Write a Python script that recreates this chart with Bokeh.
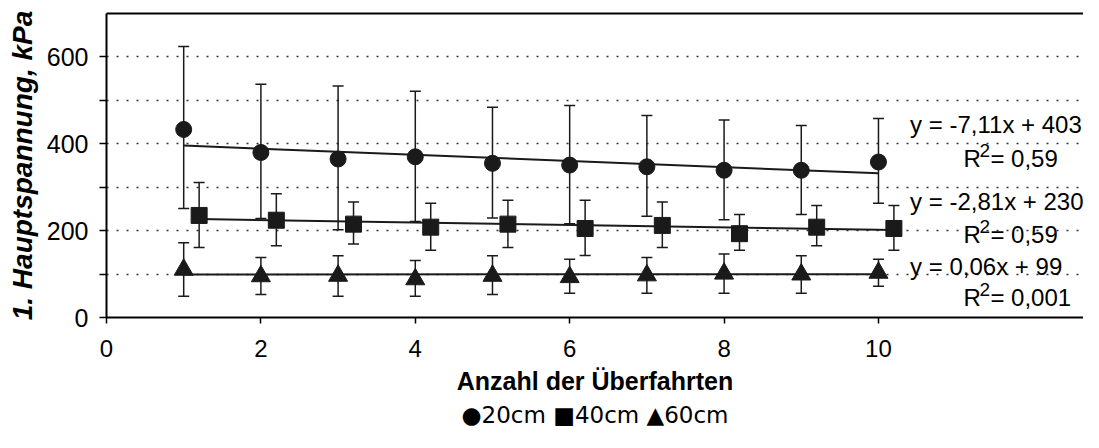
from bokeh.plotting import figure
from bokeh.models import (Range1d, FixedTicker, LinearAxis, Whisker, TeeHead,
                          ColumnDataSource, Label)
from bokeh.embed import file_html
from bokeh.resources import INLINE

# ---------------- data ----------------
passes = [1, 2, 3, 4, 5, 6, 7, 8, 9, 10]
shift_40 = 0.2  # 40cm series drawn slightly to the right

mean_20 = [433, 380, 365, 370, 355, 351, 347, 339, 339, 358]
upper_20 = [624, 537, 533, 521, 484, 488, 465, 455, 442, 458]
lower_20 = [251, 228, 202, 221, 229, 216, 233, 225, 237, 263]

mean_40 = [235, 224, 215, 208, 215, 205, 212, 193, 208, 205]
upper_40 = [311, 285, 266, 263, 270, 270, 266, 237, 258, 258]
lower_40 = [161, 165, 169, 155, 161, 143, 161, 155, 165, 155]

mean_60 = [110, 95, 96, 88, 96, 93, 97, 101, 99, 103]
upper_60 = [172, 138, 142, 131, 142, 134, 138, 146, 142, 134]
lower_60 = [49, 53, 49, 49, 53, 56, 56, 56, 56, 72]

slopes = [-7.11, -2.81, 0.06]
intercepts = [403, 230, 99]
eq_labels = ["y = -7,11x + 403", "y = -2,81x + 230", "y = 0,06x + 99"]
r2_labels = ["= 0,59", "= 0,59", "= 0,001"]
series_names = ["20cm", "40cm", "60cm"]
series_symbols = ["\u25CF", "\u25A0", "\u25B2"]

x_ticks = [0, 2, 4, 6, 8, 10]
y_ticks = [0, 100, 200, 300, 400, 500, 600]
y_tick_labels = {0: "0", 100: "", 200: "200", 300: "", 400: "400", 500: "", 600: "600"}

FONT = "Liberation Sans"
INK = "#1a1a1a"

p = figure(frame_width=977, frame_height=304, output_backend="svg", toolbar_location=None,
           x_range=Range1d(0, 12.656), y_range=Range1d(0, 700),
           min_border_left=106, min_border_right=0, min_border_top=13,
           min_border_bottom=0)
p.outline_line_color = None
p.background_fill_color = "white"
p.border_fill_color = "white"

# grid
p.xgrid.visible = False
p.ygrid.ticker = FixedTicker(ticks=y_ticks[1:])
p.ygrid.grid_line_color = "#333333"
p.ygrid.grid_line_dash = "2 8"
p.ygrid.grid_line_width = 1.5

# axes
for ax in (p.xaxis[0], p.yaxis[0]):
    ax.axis_line_width = 2
    ax.axis_line_color = "black"
    ax.major_tick_line_width = 1.5
    ax.major_tick_line_color = "black"
    ax.major_tick_in = 0
    ax.minor_tick_line_color = None
    ax.major_label_text_font = FONT
    ax.major_label_text_color = "black"

p.xaxis.ticker = FixedTicker(ticks=x_ticks)
p.xaxis.major_label_text_font_size = "24px"
p.xaxis.major_tick_out = 6
p.xaxis.major_label_standoff = 16
p.xaxis.axis_label = "Anzahl der Überfahrten"
p.xaxis.axis_label_text_font = FONT
p.xaxis.axis_label_text_font_style = "bold"
p.xaxis.axis_label_text_font_size = "25px"
p.xaxis.axis_label_text_color = "black"
p.xaxis.axis_label_standoff = 7

p.yaxis.ticker = FixedTicker(ticks=y_ticks)
p.yaxis.major_label_overrides = y_tick_labels
p.yaxis.major_label_text_font_size = "25px"
p.yaxis.major_tick_out = 7
p.yaxis.major_label_standoff = 11
p.yaxis.axis_label = "1. Hauptspannung, kPa"
p.yaxis.axis_label_text_font = FONT
p.yaxis.axis_label_text_font_style = "bold italic"
p.yaxis.axis_label_text_font_size = "28px"
p.yaxis.axis_label_text_color = "black"
p.yaxis.axis_label_standoff = 6

# top border line
top_axis = LinearAxis(ticker=FixedTicker(ticks=[]), axis_line_width=2,
                      axis_line_color="black", major_tick_out=0, major_tick_in=0,
                      minor_tick_out=0, minor_tick_in=0,
                      major_label_text_font_size="1px", major_label_standoff=0)
p.add_layout(top_axis, "above")

# legend as a text line below the x-axis title
legend_text = " ".join(s + n for s, n in zip(series_symbols, series_names))
legend_axis = LinearAxis(ticker=FixedTicker(ticks=[]), axis_line_color=None,
                         major_tick_out=0, major_tick_in=0, minor_tick_out=0, minor_tick_in=0,
                         major_label_text_font_size="1px", major_label_standoff=0,
                         axis_label=legend_text, axis_label_standoff=4,
                         axis_label_text_font="DejaVu Sans", axis_label_text_font_size="23px",
                         axis_label_text_font_style="normal", axis_label_text_color="black")
p.add_layout(legend_axis, "below")

# series
x20 = passes
x40 = [v + shift_40 for v in passes]
x60 = passes
series = [
    (x20, mean_20, upper_20, lower_20, "circle", 16),
    (x40, mean_40, upper_40, lower_40, "square", 16),
    (x60, mean_60, upper_60, lower_60, "triangle", 19),
]

for i, (xs, m, up, lo, marker, size) in enumerate(series):
    src = ColumnDataSource(dict(x=xs, y=m, upper=up, lower=lo))
    w = Whisker(source=src, base="x", upper="upper", lower="lower", dimension="height",
                line_color=INK, line_width=1.5, level="underlay",
                upper_head=TeeHead(size=11, line_color=INK, line_width=1.5),
                lower_head=TeeHead(size=11, line_color=INK, line_width=1.5))
    p.add_layout(w)
    tx = [xs[0], xs[-1]]
    ty = [slopes[i] * v + intercepts[i] for v in tx]
    p.line(tx, ty, line_color=INK, line_width=2)
    p.scatter("x", "y", source=src, marker=marker, size=size,
              fill_color=INK, line_color=INK)

# equation labels
eq_x = 10.41
r2_x = 11.1
eq_y = [445, 267, 118]
r2_y = [367, 192, 45]
for i in range(3):
    p.add_layout(Label(x=eq_x, y=eq_y[i], text=eq_labels[i], text_font=FONT,
                       text_font_size="24px", text_baseline="alphabetic", text_color="black"))
    p.add_layout(Label(x=r2_x, y=r2_y[i], text="R", text_font=FONT,
                       text_font_size="24px", text_baseline="alphabetic", text_color="black"))
    p.add_layout(Label(x=r2_x, y=r2_y[i], x_offset=16, y_offset=8, text="2", text_font=FONT,
                       text_font_size="19px", text_baseline="alphabetic", text_color="black"))
    p.add_layout(Label(x=r2_x, y=r2_y[i], x_offset=27, text=r2_labels[i], text_font=FONT,
                       text_font_size="24px", text_baseline="alphabetic", text_color="black"))

open("out.html", "w").write(file_html(p, INLINE))
